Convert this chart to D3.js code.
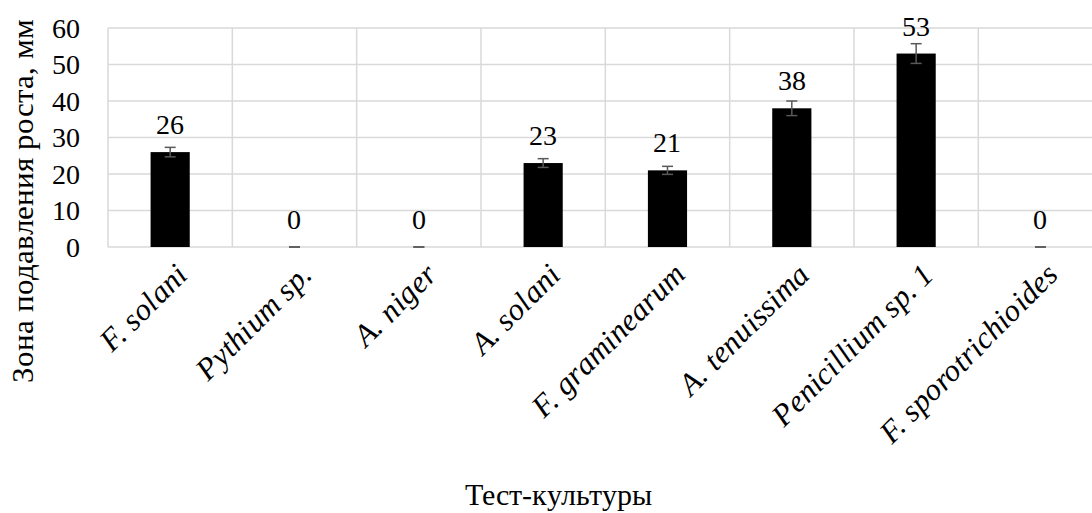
<!DOCTYPE html>
<html><head><meta charset="utf-8">
<script src="https://cdn.jsdelivr.net/npm/d3@7"></script>
<style>
body{margin:0;background:#fff}
@font-face{font-family:"ChartSerif";font-style:normal;font-weight:400;src:local("Liberation Serif"),local("LiberationSerif"),local("LiberationSerif-Regular"),local("Tinos"),local("Times New Roman");}
@font-face{font-family:"ChartSerif";font-style:italic;font-weight:400;src:local("Liberation Serif Italic"),local("LiberationSerif-Italic"),local("Tinos Italic"),local("Times New Roman Italic");}
</style>
</head><body>
<svg id="c" width="1092" height="513"></svg>
<script>
const categories = ["F. solani","Pythium sp.","A. niger","A. solani","F. graminearum","A. tenuissima","Penicillium sp. 1","F. sporotrichioides"];
const values = [26,0,0,23,21,38,53,0];
const errors = [1.3,0,0,1.2,1.1,2.0,2.7,0];
const yTicks = [0,10,20,30,40,50,60];
const yTitle = "Зона подавления роста, мм";
const xTitle = "Тест-культуры";

const svg = d3.select("#c");
const FF = '"ChartSerif", "Liberation Serif", Tinos, "Times New Roman"';
const pL = 108, pR = 108 + 8*124.33, pT = 28, pB = 247;
const x = d3.scaleBand().domain(categories).range([pL,pR]).padding(0);
const y = d3.scaleLinear().domain([0,60]).range([pB,pT]);
const grid = "#d9d9d9";

svg.append("g").selectAll("line").data(yTicks).join("line")
  .attr("x1",pL).attr("x2",pR).attr("y1",d=>y(d)).attr("y2",d=>y(d))
  .attr("stroke",grid).attr("stroke-width",1.5);
const bounds = categories.map(c=>x(c)).concat([pR]);
svg.append("g").selectAll("line").data(bounds).join("line")
  .attr("x1",d=>d).attr("x2",d=>d).attr("y1",pT).attr("y2",pB)
  .attr("stroke",grid).attr("stroke-width",1.5);

const yAxis = d3.axisLeft(y).tickValues(yTicks).tickSize(0).tickPadding(0);
const ya = svg.append("g").attr("transform",`translate(80,0)`).call(yAxis);
ya.select(".domain").remove();
ya.attr("font-family",null).attr("font-size",null);
ya.selectAll("text").attr("fill","#000").attr("dy","0.33em").style("font-family",FF).style("font-size","28px");

const bw = x.bandwidth()*0.315;
const cx = c => x(c) + x.bandwidth()/2;
svg.append("g").selectAll("rect").data(categories).join("rect")
  .attr("x",c=>cx(c)-bw/2).attr("width",bw)
  .attr("y",(c,i)=>y(values[i])).attr("height",(c,i)=>pB - y(values[i]))
  .attr("fill","#000");

const eg = svg.append("g").attr("stroke","#595959").attr("stroke-width",1.5);
categories.forEach((c,i)=>{
  const v=values[i], e=errors[i], xc=cx(c), cap=5.5;
  eg.append("line").attr("x1",xc).attr("x2",xc).attr("y1",y(v+e)).attr("y2",y(Math.max(0,v-e)));
  eg.append("line").attr("x1",xc-cap).attr("x2",xc+cap).attr("y1",y(v+e)).attr("y2",y(v+e));
  eg.append("line").attr("x1",xc-cap).attr("x2",xc+cap).attr("y1",y(Math.max(0,v-e))).attr("y2",y(Math.max(0,v-e)));
});

svg.append("g").selectAll("text").data(categories).join("text")
  .attr("x",c=>cx(c)).attr("y",(c,i)=>y(values[i])-18)
  .attr("text-anchor","middle").style("font-family",FF).style("font-size","28px")
  .text((c,i)=>values[i]);

svg.append("g").selectAll("text").data(categories).join("text")
  .attr("transform",c=>`translate(${cx(c)+4},261) rotate(-45)`)
  .attr("text-anchor","end").attr("dy","0.7em")
  .style("font-family",FF).style("font-size","31px").style("font-style","italic")
  .text(c=>c);

svg.append("text").attr("transform","translate(33,201) rotate(-90)")
  .attr("text-anchor","middle").style("font-family",FF).style("font-size","31px").text(yTitle);
svg.append("text").attr("x",558).attr("y",505)
  .attr("text-anchor","middle").style("font-family",FF).style("font-size","30px").text(xTitle);
</script>
</body></html>
